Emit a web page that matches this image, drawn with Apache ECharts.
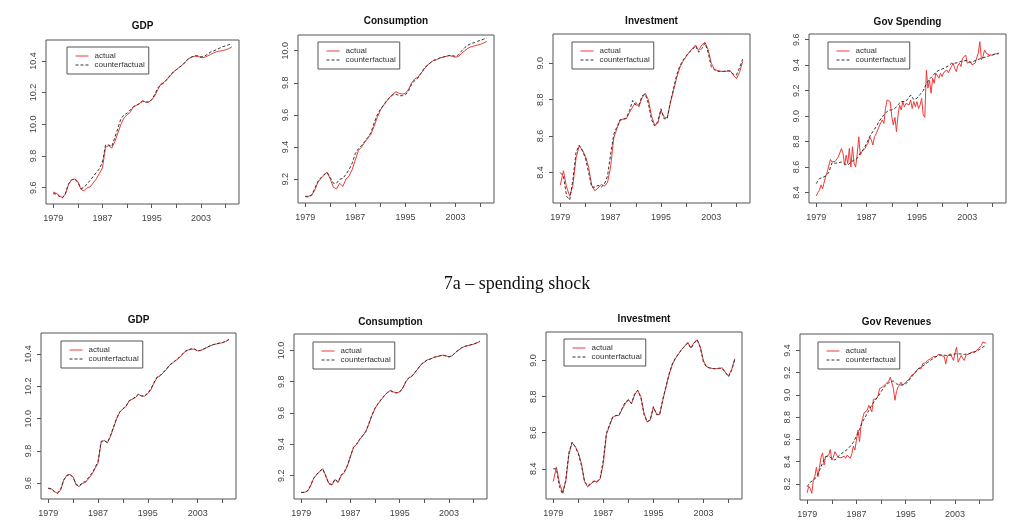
<!DOCTYPE html>
<html>
<head>
<meta charset="utf-8">
<script src="https://cdn.jsdelivr.net/npm/echarts@6/dist/echarts.min.js"></script>
<style>
  html, body { margin: 0; padding: 0; background: #fff; }
  #chart { width: 1027px; height: 531px; }
</style>
</head>
<body>
<div id="chart"></div>
<script>
// time grids (quarterly and half-yearly, 1979 - 2008)
const quarters = Array.from({ length: 117 }, (_, i) => 1979 + i / 4);
const halfYears = Array.from({ length: 59 }, (_, i) => 1979 + i / 2);
const xTicks = [1979, 1983, 1987, 1991, 1995, 1999, 2003, 2007];
const xLabels = [1979, 1987, 1995, 2003];

// half-yearly, actual (same in both rows)
const gdpActual = [
  9.572, 9.565, 9.55, 9.537, 9.56, 9.62, 9.65, 9.655, 9.64, 9.59,
  9.58, 9.60, 9.605, 9.63, 9.655, 9.69, 9.725, 9.855, 9.865, 9.85,
  9.89, 9.945, 10.0, 10.04, 10.06, 10.075, 10.11, 10.12, 10.13, 10.15,
  10.14, 10.14, 10.155, 10.18, 10.22, 10.255, 10.265, 10.285, 10.305, 10.33,
  10.345, 10.36, 10.375, 10.395, 10.415, 10.425, 10.43, 10.43, 10.42, 10.422,
  10.43, 10.44, 10.45, 10.458, 10.462, 10.466, 10.47, 10.478, 10.488
];
const gdpCfSpend = [
  9.562, 9.56, 9.545, 9.535, 9.565, 9.625, 9.65, 9.652, 9.635, 9.595,
  9.60, 9.625, 9.645, 9.67, 9.695, 9.72, 9.76, 9.87, 9.87, 9.86,
  9.915, 9.975, 10.035, 10.06, 10.07, 10.09, 10.11, 10.12, 10.13, 10.145,
  10.14, 10.14, 10.155, 10.19, 10.23, 10.25, 10.262, 10.285, 10.31, 10.33,
  10.345, 10.36, 10.375, 10.395, 10.415, 10.425, 10.432, 10.432, 10.425, 10.43,
  10.44, 10.455, 10.462, 10.472, 10.48, 10.49, 10.495, 10.502, 10.51
];
const gdpCfTax = [
  9.568, 9.565, 9.548, 9.54, 9.565, 9.622, 9.648, 9.655, 9.635, 9.592,
  9.585, 9.605, 9.612, 9.637, 9.662, 9.695, 9.735, 9.86, 9.865, 9.852,
  9.895, 9.95, 10.005, 10.042, 10.062, 10.078, 10.112, 10.12, 10.135, 10.152,
  10.14, 10.142, 10.158, 10.185, 10.225, 10.258, 10.268, 10.288, 10.308, 10.332,
  10.347, 10.362, 10.378, 10.398, 10.417, 10.427, 10.432, 10.43, 10.418, 10.423,
  10.432, 10.442, 10.451, 10.458, 10.463, 10.467, 10.471, 10.479, 10.49
];

const consActual = [
  9.094, 9.094, 9.10, 9.13, 9.18, 9.205, 9.225, 9.245, 9.20, 9.15,
  9.14, 9.175, 9.155, 9.20, 9.22, 9.26, 9.32, 9.38, 9.40, 9.43,
  9.455, 9.48, 9.53, 9.585, 9.63, 9.66, 9.685, 9.71, 9.73, 9.745,
  9.735, 9.73, 9.735, 9.76, 9.80, 9.825, 9.835, 9.86, 9.885, 9.91,
  9.925, 9.94, 9.945, 9.955, 9.96, 9.965, 9.97, 9.965, 9.96, 9.965,
  9.985, 10.0, 10.015, 10.025, 10.03, 10.035, 10.04, 10.048, 10.058
];
const consCfSpend = [
  9.092, 9.09, 9.10, 9.14, 9.185, 9.21, 9.23, 9.24, 9.21, 9.175,
  9.175, 9.20, 9.205, 9.23, 9.26, 9.30, 9.36, 9.39, 9.41, 9.435,
  9.46, 9.49, 9.55, 9.60, 9.635, 9.66, 9.69, 9.71, 9.725, 9.73,
  9.72, 9.72, 9.725, 9.75, 9.79, 9.815, 9.83, 9.86, 9.89, 9.91,
  9.925, 9.94, 9.945, 9.955, 9.96, 9.965, 9.97, 9.97, 9.965, 9.975,
  10.0, 10.02, 10.035, 10.045, 10.05, 10.058, 10.065, 10.072, 10.08
];
const consCfTax = [
  9.092, 9.093, 9.102, 9.135, 9.182, 9.207, 9.228, 9.243, 9.195, 9.148,
  9.145, 9.178, 9.16, 9.205, 9.225, 9.265, 9.325, 9.383, 9.402, 9.433,
  9.458, 9.484, 9.535, 9.588, 9.632, 9.662, 9.688, 9.712, 9.732, 9.742,
  9.732, 9.728, 9.735, 9.762, 9.802, 9.827, 9.837, 9.862, 9.887, 9.912,
  9.927, 9.941, 9.946, 9.956, 9.961, 9.966, 9.97, 9.964, 9.958, 9.966,
  9.987, 10.002, 10.016, 10.026, 10.031, 10.036, 10.041, 10.049, 10.057
];

const invActual = [
  8.33, 8.41, 8.32, 8.27, 8.33, 8.48, 8.545, 8.525, 8.49, 8.43,
  8.33, 8.30, 8.315, 8.335, 8.325, 8.345, 8.43, 8.59, 8.64, 8.685,
  8.695, 8.695, 8.73, 8.76, 8.785, 8.76, 8.81, 8.835, 8.80, 8.71,
  8.66, 8.67, 8.74, 8.705, 8.70, 8.78, 8.85, 8.92, 8.975, 9.01,
  9.035, 9.06, 9.08, 9.10, 9.07, 9.10, 9.115, 9.075, 9.00, 8.965,
  8.96, 8.955, 8.955, 8.955, 8.96, 8.935, 8.915, 8.95, 9.01
];
const invCfSpend = [
  8.40, 8.38, 8.27, 8.25, 8.36, 8.51, 8.55, 8.52, 8.48, 8.40,
  8.32, 8.32, 8.33, 8.32, 8.335, 8.38, 8.50, 8.61, 8.65, 8.69,
  8.69, 8.70, 8.74, 8.795, 8.77, 8.77, 8.82, 8.83, 8.78, 8.69,
  8.655, 8.68, 8.75, 8.695, 8.695, 8.79, 8.86, 8.935, 8.985, 9.015,
  9.04, 9.06, 9.075, 9.095, 9.06, 9.08, 9.11, 9.06, 8.98, 8.965,
  8.955, 8.955, 8.955, 8.96, 8.955, 8.94, 8.935, 8.975, 9.022
];
const invCfTax = [
  8.40, 8.40, 8.30, 8.26, 8.34, 8.49, 8.548, 8.522, 8.485, 8.42,
  8.33, 8.305, 8.32, 8.33, 8.33, 8.35, 8.45, 8.60, 8.645, 8.688,
  8.695, 8.698, 8.735, 8.77, 8.78, 8.762, 8.815, 8.835, 8.795, 8.70,
  8.66, 8.672, 8.745, 8.70, 8.70, 8.785, 8.855, 8.925, 8.98, 9.012,
  9.037, 9.06, 9.078, 9.098, 9.068, 9.095, 9.115, 9.07, 8.99, 8.965,
  8.958, 8.955, 8.955, 8.958, 8.955, 8.935, 8.91, 8.945, 9.005
];

// quarterly actual, half-yearly counterfactual
const govSpendActual = [
  8.374, 8.40, 8.418, 8.46, 8.43, 8.418, 8.53, 8.563, 8.55, 8.66, 8.64, 8.63, 8.645, 8.66, 8.68, 8.667, 8.746, 8.707, 8.615, 8.694,
  8.628, 8.746, 8.60, 8.76, 8.63, 8.60, 8.70, 8.838, 8.694, 8.72, 8.733, 8.746, 8.77, 8.79, 8.838, 8.812, 8.773, 8.838, 8.86, 8.89,
  8.904, 8.95, 8.97, 8.943, 9.06, 9.127, 9.14, 9.114, 8.996, 8.93, 8.99, 8.878, 9.01, 9.088, 9.048, 9.114, 9.074, 9.10, 9.114, 9.088,
  9.127, 9.06, 9.114, 9.074, 9.114, 9.06, 9.088, 9.14, 9.01, 8.99, 9.36, 9.22, 9.284, 9.18, 9.298, 9.258, 9.337, 9.324, 9.298, 9.337,
  9.31, 9.342, 9.33, 9.363, 9.34, 9.368, 9.39, 9.416, 9.376, 9.35, 9.395, 9.416, 9.39, 9.455, 9.465, 9.48, 9.416, 9.416, 9.43, 9.403,
  9.39, 9.416, 9.43, 9.495, 9.585, 9.442, 9.468, 9.52, 9.495, 9.50, 9.48, 9.495, 9.48, 9.495, 9.49, 9.485, 9.488
];
const govSpendCf = [
  8.47, 8.51, 8.518, 8.53, 8.56, 8.635, 8.63, 8.634, 8.64, 8.625,
  8.615, 8.64, 8.655, 8.668, 8.71, 8.74, 8.786, 8.84, 8.88, 8.915,
  8.96, 8.995, 9.025, 9.045, 9.05, 9.06, 9.09, 9.114, 9.114, 9.13,
  9.166, 9.13, 9.14, 9.17, 9.2, 9.255, 9.29, 9.315, 9.345, 9.36,
  9.37, 9.38, 9.395, 9.415, 9.416, 9.42, 9.43, 9.435, 9.437, 9.42,
  9.43, 9.442, 9.45, 9.458, 9.466, 9.474, 9.48, 9.488, 9.495
];
const govRevActual = [
  8.12, 8.18, 8.16, 8.116, 8.23, 8.27, 8.35, 8.266, 8.35, 8.44, 8.48, 8.37, 8.445, 8.46, 8.46, 8.51, 8.415, 8.44, 8.49, 8.50,
  8.44, 8.445, 8.435, 8.445, 8.45, 8.43, 8.46, 8.445, 8.43, 8.47, 8.54, 8.505, 8.595, 8.684, 8.58, 8.73, 8.788, 8.84, 8.833, 8.863,
  8.907, 8.88, 8.848, 8.96, 8.975, 8.967, 8.99, 9.057, 9.057, 9.072, 9.072, 9.10, 9.10, 9.125, 9.16, 9.146, 9.057, 8.952, 9.03, 9.072,
  9.087, 9.116, 9.087, 9.10, 9.116, 9.10, 9.14, 9.155, 9.18, 9.19, 9.195, 9.21, 9.236, 9.25, 9.236, 9.28, 9.28, 9.29, 9.31, 9.32,
  9.325, 9.33, 9.345, 9.352, 9.346, 9.364, 9.364, 9.355, 9.37, 9.345, 9.28, 9.35, 9.34, 9.37, 9.385, 9.31, 9.38, 9.43, 9.295, 9.29,
  9.355, 9.33, 9.31, 9.355, 9.34, 9.37, 9.355, 9.385, 9.40, 9.385, 9.40, 9.415, 9.415, 9.445, 9.475, 9.475, 9.465
];
const govRevCf = [
  8.176, 8.215, 8.235, 8.26, 8.32, 8.39, 8.445, 8.45, 8.43, 8.415,
  8.445, 8.47, 8.49, 8.51, 8.54, 8.575, 8.63, 8.69, 8.76, 8.81,
  8.86, 8.91, 8.95, 8.985, 9.03, 9.07, 9.10, 9.12, 9.125, 9.10,
  9.09, 9.09, 9.10, 9.13, 9.165, 9.2, 9.235, 9.25, 9.27, 9.29,
  9.31, 9.33, 9.346, 9.36, 9.36, 9.355, 9.355, 9.36, 9.37, 9.37,
  9.368, 9.365, 9.368, 9.375, 9.385, 9.395, 9.41, 9.43, 9.445
];

const panels = [
  { title: 'GDP', box: [46, 40, 193, 164], titleY: 26, legendAt: [67, 47], yRange: [9.497, 10.532],
    yTicks: [9.6, 9.8, 10.0, 10.2, 10.4], actual: [halfYears, gdpActual], cf: [halfYears, gdpCfSpend] },
  { title: 'Consumption', box: [298, 35, 196, 168], titleY: 21, legendAt: [318, 42], yRange: [9.052, 10.098],
    yTicks: [9.2, 9.4, 9.6, 9.8, 10.0], actual: [halfYears, consActual], cf: [halfYears, consCfSpend] },
  { title: 'Investment', box: [553, 34, 197, 169], titleY: 21, legendAt: [572, 42], yRange: [8.233, 9.160],
    yTicks: [8.4, 8.6, 8.8, 9.0], actual: [halfYears, invActual], cf: [halfYears, invCfSpend] },
  { title: 'Gov Spending', box: [809, 34, 197, 169], titleY: 22, legendAt: [828, 42], yRange: [8.318, 9.645],
    yTicks: [8.4, 8.6, 8.8, 9.0, 9.2, 9.4, 9.6], actual: [quarters, govSpendActual], cf: [halfYears, govSpendCf] },
  { title: 'GDP', box: [41, 333, 195, 166], titleY: 320, legendAt: [61, 341], yRange: [9.503, 10.530],
    yTicks: [9.6, 9.8, 10.0, 10.2, 10.4], actual: [halfYears, gdpActual], cf: [halfYears, gdpCfTax] },
  { title: 'Consumption', box: [294, 334, 193, 165], titleY: 322, legendAt: [313, 342], yRange: [9.051, 10.105],
    yTicks: [9.2, 9.4, 9.6, 9.8, 10.0], actual: [halfYears, consActual], cf: [halfYears, consCfTax] },
  { title: 'Investment', box: [546, 332, 196, 167], titleY: 319, legendAt: [564, 339], yRange: [8.233, 9.158],
    yTicks: [8.4, 8.6, 8.8, 9.0], actual: [halfYears, invActual], cf: [halfYears, invCfTax] },
  { title: 'Gov Revenues', box: [800, 334, 193, 166], titleY: 322, legendAt: [818, 342], yRange: [8.056, 9.548],
    yTicks: [8.2, 8.4, 8.6, 8.8, 9.0, 9.2, 9.4], actual: [quarters, govRevActual], cf: [halfYears, govRevCf] }
];

const FONT = '"Liberation Sans", Arial, Helvetica, sans-serif';
const AXIS = '#555';
const pairs = (xs, ys) => ys.map((v, i) => [xs[i], v]);

const grid = [], xAxis = [], yAxis = [], series = [], legend = [], graphic = [];

panels.forEach((p, i) => {
  const [left, top, width, height] = p.box;
  grid.push({ left, top, width, height, show: true, borderColor: AXIS, borderWidth: 1 });
  xAxis.push({
    type: 'value', gridIndex: i, min: 1977.84, max: 2009.16,
    axisLine: { show: false }, splitLine: { show: false },
    axisTick: { show: true, length: 4, customValues: xTicks, lineStyle: { color: AXIS } },
    axisLabel: { customValues: xLabels, margin: 10, fontSize: 9, fontFamily: FONT, color: '#444',
      formatter: v => String(v) }
  });
  yAxis.push({
    type: 'value', gridIndex: i, min: p.yRange[0], max: p.yRange[1],
    axisLine: { show: false }, splitLine: { show: false },
    axisTick: { show: true, length: 4, customValues: p.yTicks, lineStyle: { color: AXIS } },
    axisLabel: { customValues: p.yTicks, rotate: 90, margin: 8, fontSize: 9, fontFamily: FONT, color: '#444',
      formatter: v => v.toFixed(1) }
  });
  series.push({
    name: 'actual', type: 'line', xAxisIndex: i, yAxisIndex: i, symbol: 'none',
    data: pairs(p.actual[0], p.actual[1]),
    lineStyle: { color: '#f03a3a', width: 1 }, itemStyle: { color: '#f03a3a' }
  });
  series.push({
    name: 'counterfactual', type: 'line', xAxisIndex: i, yAxisIndex: i, symbol: 'none',
    data: pairs(p.cf[0], p.cf[1]),
    lineStyle: { color: '#333', width: 1, type: [3, 2] }, itemStyle: { color: '#333' }
  });
  legend.push({
    data: ['actual', 'counterfactual'], orient: 'vertical',
    left: p.legendAt[0], top: p.legendAt[1],
    padding: [5, 4, 5, 8], itemGap: 1, itemWidth: 13, itemHeight: 8,
    borderColor: AXIS, borderWidth: 1, selectedMode: false,
    itemStyle: { opacity: 0 },
    lineStyle: { width: 1 },
    textStyle: { fontSize: 8, fontFamily: FONT, color: '#333', padding: [0, 0, 0, 1] }
  });
  graphic.push({
    type: 'text', x: left + width / 2, y: p.titleY,
    style: { text: p.title, font: 'bold 10px ' + FONT, fill: '#111', textAlign: 'center', textVerticalAlign: 'middle' }
  });
});

graphic.push({
  type: 'text', x: 517, y: 284,
  style: { text: '7a – spending shock', font: '18px "Liberation Serif", "Times New Roman", serif',
    fill: '#111', textAlign: 'center', textVerticalAlign: 'middle' }
});

const chart = echarts.init(document.getElementById('chart'), null, { renderer: 'canvas' });
chart.setOption({
  backgroundColor: '#fff',
  animation: false,
  grid, xAxis, yAxis, series, legend, graphic
});
</script>
</body>
</html>
